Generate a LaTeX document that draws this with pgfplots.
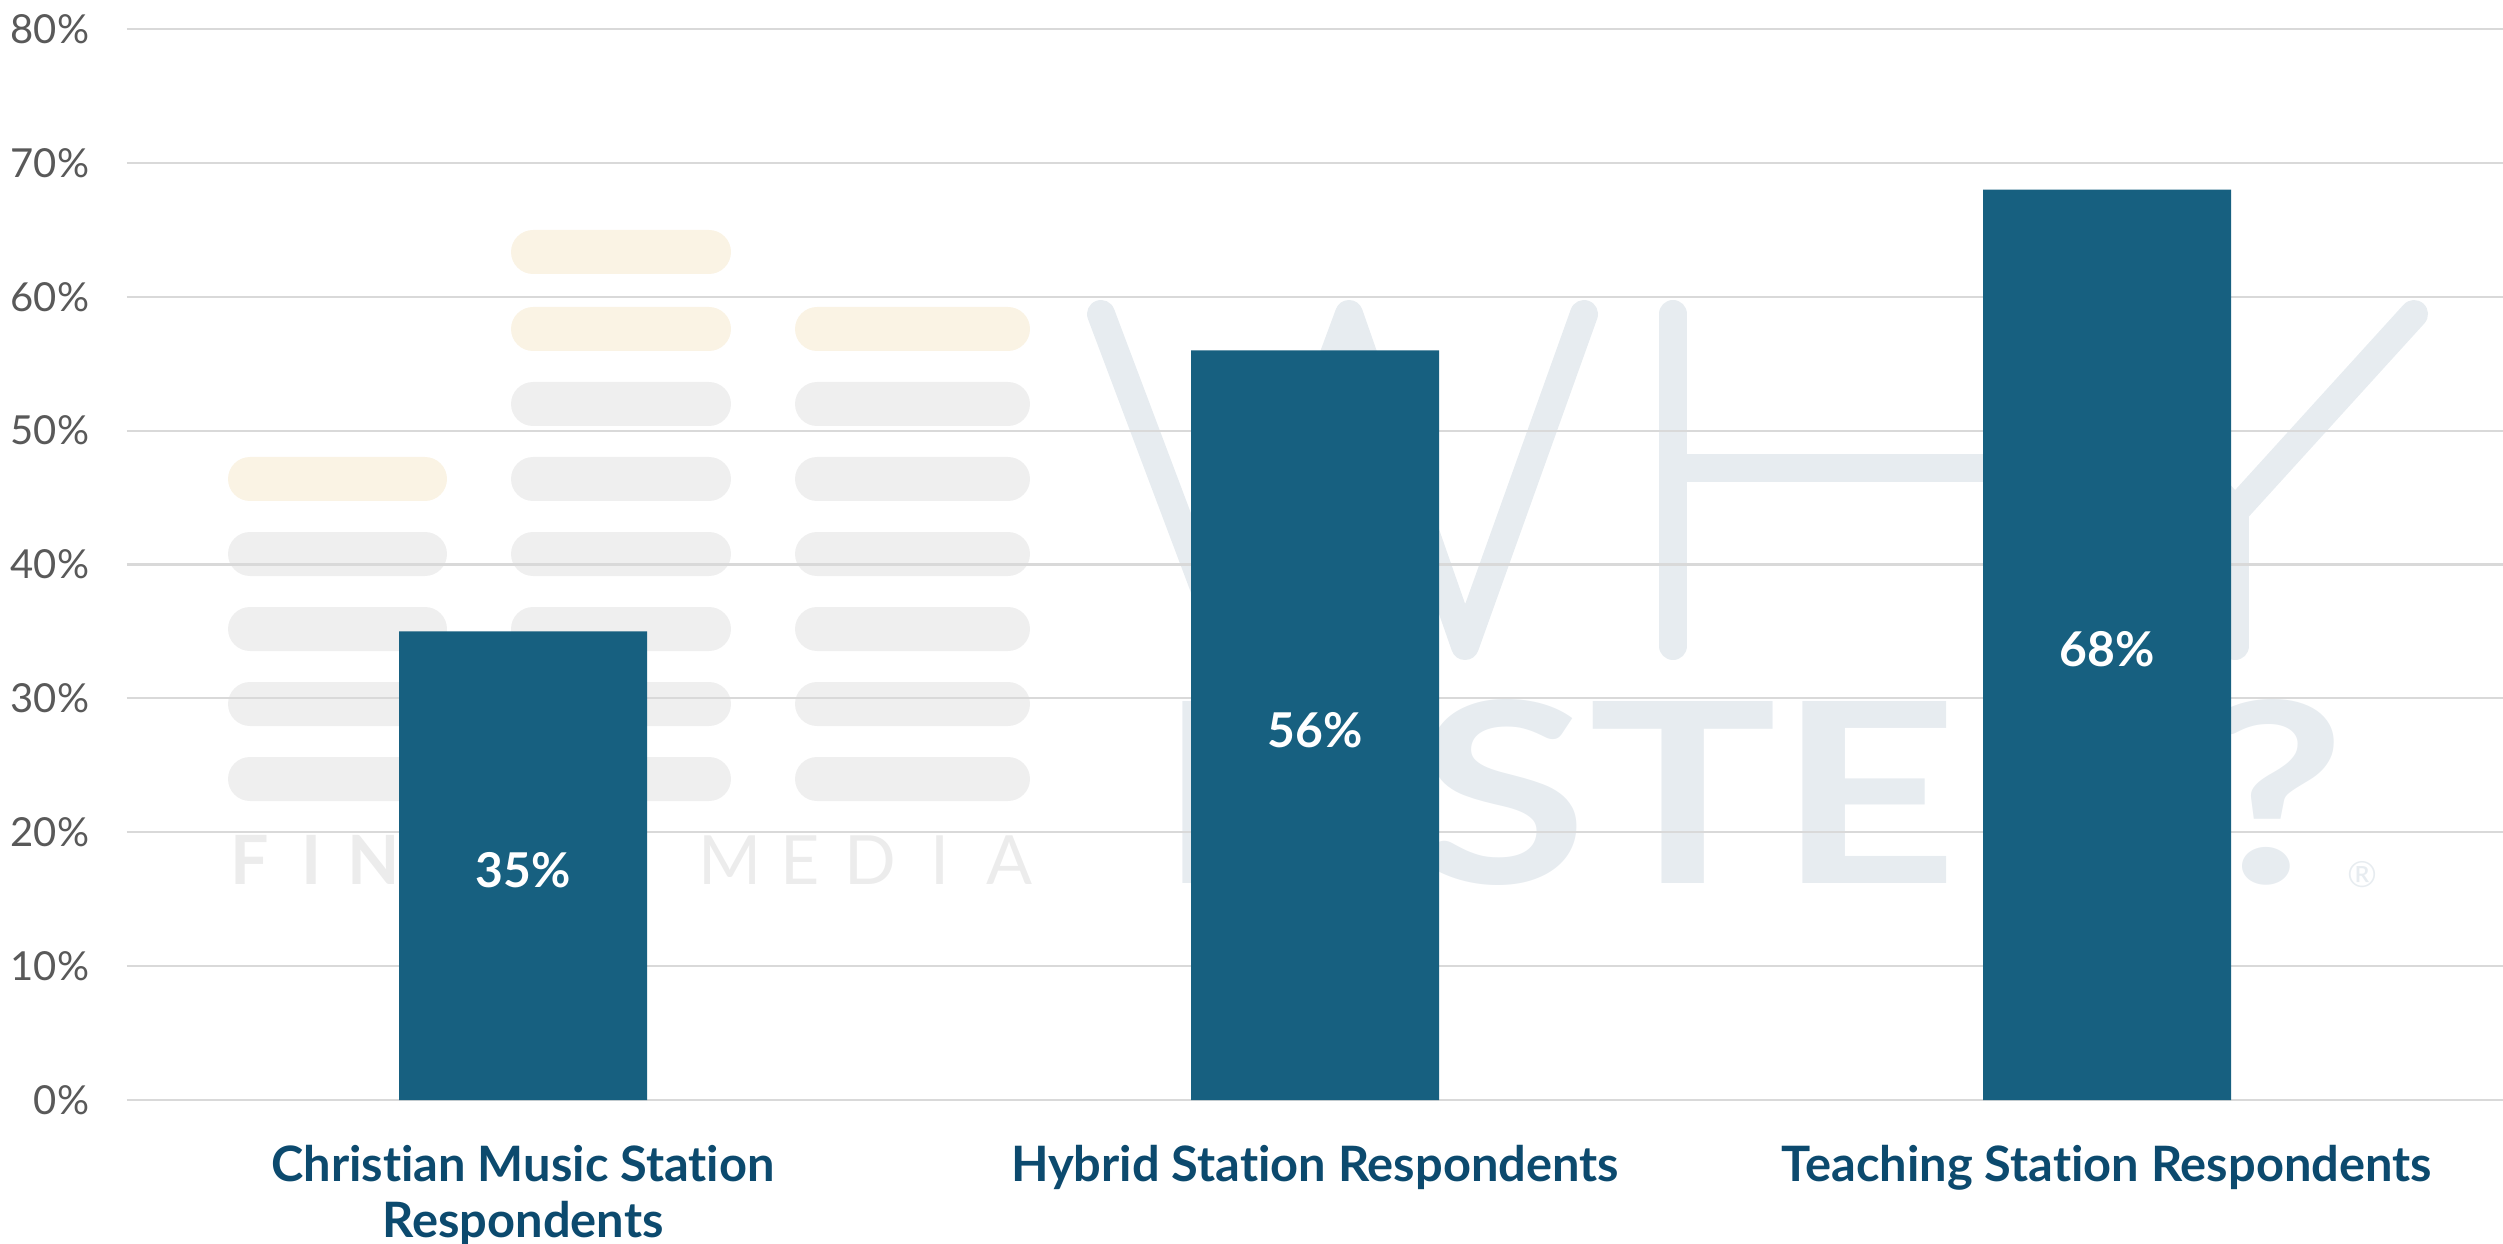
\documentclass[border=0pt]{standalone}
\usepackage{fontspec}
\setmainfont{Lato}[Ligatures=NoCommon]
\usepackage{graphicx}
\usepackage{pgfplots}
\pgfplotsset{compat=1.18}
\usepackage{pgfplotstable}
\definecolor{barblue}{HTML}{176080}
\definecolor{labelblue}{HTML}{0C4A6E}
\definecolor{tickgray}{HTML}{595959}
\definecolor{gridgray}{HTML}{D9D9D9}
\definecolor{wmgray}{HTML}{EFEFEF}
\definecolor{wmcream}{HTML}{FAF3E4}
\definecolor{wmblue}{HTML}{E7ECF0}
\definecolor{wmtext}{HTML}{ECECEC}

\pgfplotstableread{
x y
0 35
1 56
2 68
}\datatable

\begin{document}
\begin{tikzpicture}
\useasboundingbox (-31.75pt,-35.75pt) rectangle (594pt,275pt);
% ---- faint background watermark (decorative) ----
\begin{scope}[shift={(-31.75pt,275pt)}, x=0.25pt, y=-0.25pt]
  % column 1
  \fill[wmcream, rounded corners=5.5pt] (228,457) rectangle (447,501);
  \foreach \yy in {554,629,704,779}
    \fill[wmgray, rounded corners=5.5pt] (228,{\yy-22}) rectangle (447,{\yy+22});
  % column 2
  \foreach \yy in {252,329}
    \fill[wmcream, rounded corners=5.5pt] (511,{\yy-22}) rectangle (731,{\yy+22});
  \foreach \yy in {404,479,554,629,704,779}
    \fill[wmgray, rounded corners=5.5pt] (511,{\yy-22}) rectangle (731,{\yy+22});
  % column 3
  \fill[wmcream, rounded corners=5.5pt] (795,307) rectangle (1030,351);
  \foreach \yy in {404,479,554,629,704,779}
    \fill[wmgray, rounded corners=5.5pt] (795,{\yy-22}) rectangle (1030,{\yy+22});
  % FINE MEDIA
  \foreach \c [count=\i] in {F,I,N,E}
    \node[text=wmtext, font=\fontsize{17}{17}\selectfont\bfseries, inner sep=0pt, anchor=base]
      at ({250+62*(\i-1)}, 884) {\c};
  \foreach \c [count=\i] in {M,E,D,I,A}
    \node[text=wmtext, font=\fontsize{17}{17}\selectfont, inner sep=0pt, anchor=base]
      at ({730+70*(\i-1)}, 884) {\c};
  % WHY
  \draw[wmblue, line width=7pt, line join=round, line cap=round]
    (1101,314) -- (1226,646) -- (1349,314) -- (1465,646) -- (1584,314);
  \draw[wmblue, line width=7pt, line cap=round] (1673,314) -- (1673,646);
  \draw[wmblue, line width=7pt, line cap=round] (2003,314) -- (2003,646);
  \draw[wmblue, line width=7pt] (1673,468) -- (2003,468);
  \draw[wmblue, line width=7pt, line join=round, line cap=round]
    (2059,314) -- (2235,511) -- (2414,314);
  \draw[wmblue, line width=7pt, line cap=round] (2235,511) -- (2235,646);
  % LISTEN?
  \node[text=wmblue, inner sep=0pt, anchor=south west] at (1157,886)
    {\resizebox{297pt}{46pt}{\bfseries LISTEN?}};
  \node[text=wmblue, inner sep=0pt, font=\fontsize{9}{9}\selectfont] at (2362,875) {®};
\end{scope}
% ---- chart ----
\begin{axis}[
  at={(0pt,0pt)}, anchor=south west,
  width=594pt, height=267.75pt, scale only axis,
  xmin=-0.5, xmax=2.5, ymin=0, ymax=80,
  axis line style={draw=none}, tick style={draw=none},
  /pgf/number format/assume math mode=true,
  ytick={0,10,...,80},
  yticklabel={\pgfmathprintnumber{\tick}\%},
  yticklabel style={font=\fontsize{10}{12}\selectfont, text=tickgray, inner sep=0pt, anchor=east, xshift=-9.25pt},
  ymajorgrids, grid style={gridgray, line width=0.55pt},
  xtick={0,1,2},
  xticklabels={{Christian Music Station\\Respondents},{Hybrid Station Respondents},{Teaching Station Respondents}},
  xticklabel style={align=center, font=\fontsize{12.2}{14}\selectfont\bfseries, text=labelblue, inner sep=0pt, anchor=north, yshift=-11pt},
]
\addplot[ybar, bar width=62pt, fill=barblue, draw=none] table[x=x, y=y] {\datatable};
\addplot[draw=none, forget plot, y filter/.expression={y/2}, point meta=rawy,
  nodes near coords={\pgfmathprintnumber{\pgfplotspointmeta}\%},
  every node near coord/.style={anchor=center, text=white, font=\fontsize{12}{14}\selectfont\bfseries, inner sep=0pt, yshift=-1.2pt}]
  table[x=x, y=y] {\datatable};
\end{axis}
\end{tikzpicture}
\end{document}
